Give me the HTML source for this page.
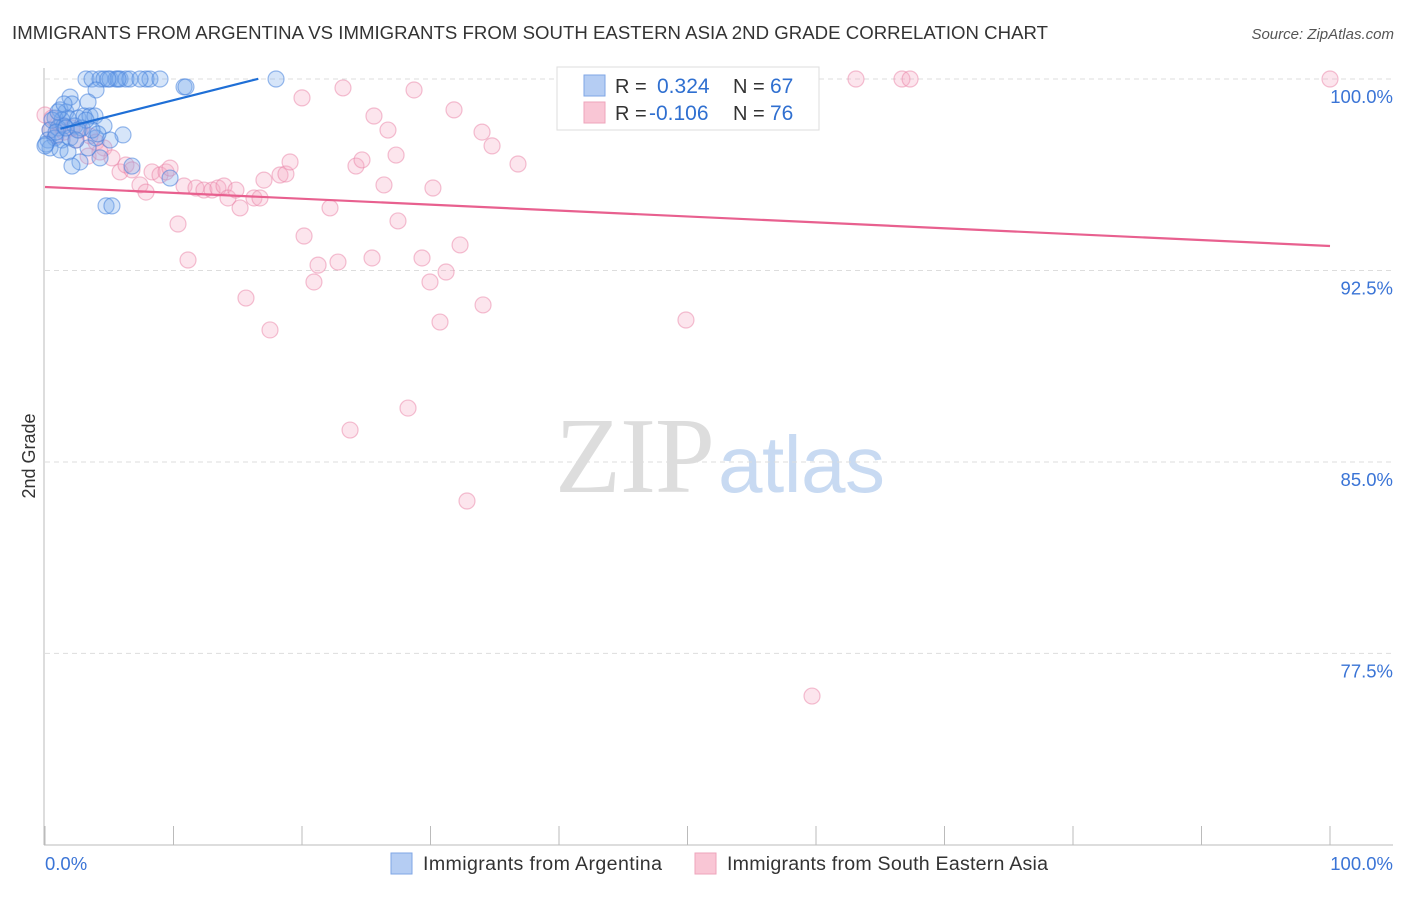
<!DOCTYPE html>
<html><head><meta charset="utf-8"><style>
body{margin:0;background:#fff;font-family:"Liberation Sans",sans-serif;}
</style></head><body>
<svg width="1406" height="892" xmlns="http://www.w3.org/2000/svg">
<text x="12" y="39" font-size="18.6" fill="#333" textLength="1036">IMMIGRANTS FROM ARGENTINA VS IMMIGRANTS FROM SOUTH EASTERN ASIA 2ND GRADE CORRELATION CHART</text>
<text x="1394" y="39" font-size="15" fill="#555" font-style="italic" text-anchor="end">Source: ZipAtlas.com</text>
<text x="715" y="492" font-size="108" fill="#ddd" text-anchor="end" font-family="Liberation Serif,serif" textLength="160">ZIP</text>
<text x="718" y="492" font-size="80" fill="#c8daf2" textLength="167">atlas</text>
<g id="grid"></g>
<g id="axes"></g>
<g id="pts"></g>
<g id="lines"></g>
<text x="35" y="456" font-size="18" fill="#333" text-anchor="middle" transform="rotate(-90 35 456)">2nd Grade</text>
<g>
<rect x="557" y="67" width="262" height="63" fill="#fff" stroke="#ddd"/>
<rect x="584" y="75" width="21" height="21" fill="#b5cdf3" stroke="#7fa6e6"/>
<rect x="584" y="102" width="21" height="21" fill="#f9c6d5" stroke="#eea4bb"/>
<text x="615" y="93" font-size="20" fill="#333">R = </text><text x="657" y="93" font-size="21" fill="#2f6fd0">0.324</text>
<text x="733" y="93" font-size="20" fill="#333">N = </text><text x="770" y="93" font-size="21" fill="#2f6fd0">67</text>
<text x="615" y="120" font-size="20" fill="#333">R = </text><text x="649" y="120" font-size="21" fill="#2f6fd0">-0.106</text>
<text x="733" y="120" font-size="20" fill="#333">N = </text><text x="770" y="120" font-size="21" fill="#2f6fd0">76</text>
</g>
<g>
<rect x="391" y="853" width="21" height="21" fill="#b5cdf3" stroke="#7fa6e6"/>
<text x="423" y="870" font-size="19.6" fill="#333" textLength="239">Immigrants from Argentina</text>
<rect x="695" y="853" width="21" height="21" fill="#f9c6d5" stroke="#eea4bb"/>
<text x="727" y="870" font-size="19.6" fill="#333" textLength="321">Immigrants from South Eastern Asia</text>
</g>
</svg>
<script>
const yTicks=[100,92.5,85,77.5];
const yTickLabels=["100.0%","92.5%","85.0%","77.5%"];
const xEndLabels=["0.0%","100.0%"];
const blueX=[3.19,3.66,4.28,4.59,5.06,5.53,5.84,6.30,6.61,7.86,8.17,8.95,17.98,10.82,10.97,3.97,3.35,1.95,1.17,1.63,2.10,0.78,1.32,1.79,2.57,3.04,3.50,3.89,0.39,1.01,1.48,2.33,2.88,4.59,6.07,0.23,0.78,1.32,1.95,3.97,5.06,0.39,1.17,1.79,4.28,2.72,2.10,6.77,9.73,4.75,5.21,3.66,3.35,0.54,0.86,0.08,1.01,1.63,0,2.41,3.19,1.48,4.12,5.68,7.39,4.90,2.57];
const blueY=[100,100,100,100,100,100,100,100,100,100,100,100,100,99.69,99.69,99.57,99.10,99.29,98.79,98.71,99.02,98.47,98.39,98.47,98.47,98.55,98.55,98.55,98.0,98.08,98.16,98.16,98.08,98.16,97.81,97.61,97.69,97.61,97.69,97.69,97.61,97.30,97.22,97.14,96.91,96.75,96.59,96.59,96.12,95.03,95.03,98.0,97.30,98.39,97.92,97.45,98.71,98.08,97.38,97.61,98.39,99.02,97.85,100,100,100,98.0];
const pinkX=[0,0.54,1.17,0.39,0.86,1.48,2.10,2.72,2.41,3.50,3.97,4.59,5.21,3.35,4.28,5.84,6.30,6.77,7.39,7.86,8.33,8.95,9.42,9.73,10.35,11.13,10.82,11.75,12.37,13.0,13.46,13.93,14.24,14.86,15.18,16.26,16.73,17.04,18.29,18.75,19.07,15.64,17.51,20.0,20.16,20.93,21.25,22.18,22.80,23.19,23.74,24.20,24.67,25.45,25.60,26.38,26.69,27.32,27.47,28.25,28.72,29.34,29.96,30.19,30.74,31.21,31.83,32.30,32.84,34.01,34.09,34.79,36.81,49.88,59.69,63.11,66.69,67.32,100];
const pinkY=[98.59,98.47,98.20,98.0,97.77,97.92,98.08,98.0,97.61,97.77,97.53,97.30,96.91,96.98,97.14,96.36,96.63,96.44,95.85,95.57,96.36,96.24,96.36,96.51,94.32,92.91,95.81,95.73,95.65,95.65,95.73,95.81,95.34,95.65,94.95,95.34,95.34,96.04,96.24,96.28,96.75,91.42,90.17,99.26,93.85,92.05,92.71,94.95,92.83,99.65,86.25,96.59,96.83,92.99,98.55,95.85,98.0,97.02,94.44,87.11,99.57,92.99,92.05,95.73,90.48,92.44,98.79,93.50,83.47,97.92,91.15,97.38,96.67,90.56,75.83,100,100,100,100];
const blueFit=[97.9,0.127,1.2,16.6];
const pinkFit=[95.77,-0.0231,0,100];
const NS="http://www.w3.org/2000/svg";
const X=v=>45+v*12.85, Y=v=>79+(100-v)*25.53;
function mk(t,a,p){const e=document.createElementNS(NS,t);for(const k in a)e.setAttribute(k,a[k]);p.appendChild(e);return e;}
const grid=document.getElementById('grid'),axes=document.getElementById('axes');
yTicks.forEach((t,i)=>{
 const l=mk('line',{x1:45,x2:1393,y1:Y(t),y2:Y(t),stroke:'#ddd','stroke-dasharray':'5,4'},grid);
 
 
 const tx=mk('text',{x:1393,y:Y(t)+24,'font-size':18.5,fill:'#3a74d6','text-anchor':'end'},axes);
 tx.textContent=yTickLabels[i];
 
 
});
const ax=mk('line',{x1:44,x2:44,y1:68,y2:845,stroke:'#bbb'},axes);


const bx=mk('line',{x1:44,x2:1393,y1:845,y2:845,stroke:'#bbb'},axes);


for(let k=0;k<=10;k++){const t=mk('line',{x1:X(k*10),x2:X(k*10),y1:826,y2:845,stroke:'#bbb'},axes);
 
 }
[[0,'start',45],[100,'end',1393]].forEach((d,i)=>{const t=mk('text',{x:d[2],y:870,'font-size':18.5,fill:'#3a74d6','text-anchor':d[1]},axes);t.textContent=xEndLabels[i];
 
 });
const pts=document.getElementById('pts');
pinkX.forEach((x,i)=>{const c=mk('circle',{cx:X(x),cy:Y(pinkY[i]),r:8,fill:'rgba(246,170,196,0.3)',stroke:'rgba(234,130,165,0.5)','stroke-width':1.2},pts);
 
 });
blueX.forEach((x,i)=>{const c=mk('circle',{cx:X(x),cy:Y(blueY[i]),r:8,fill:'rgba(120,168,235,0.3)',stroke:'rgba(70,130,220,0.55)','stroke-width':1.2},pts);
 
 });
const lines=document.getElementById('lines');
function fit(f,col,name){const l=mk('line',{x1:X(f[2]),y1:Y(f[0]+f[1]*f[2]),x2:X(f[3]),y2:Y(f[0]+f[1]*f[3]),stroke:col,'stroke-width':2.2},lines);
 
 }
fit(blueFit,'#1f6fd6','trendline-argentina');
fit(pinkFit,'#e8608f','trendline-south-eastern-asia');
</script>
</body></html>
